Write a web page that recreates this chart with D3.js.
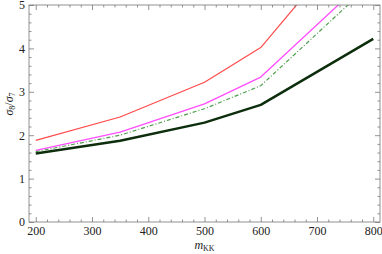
<!DOCTYPE html>
<html>
<head>
<meta charset="utf-8">
<script src="https://cdn.jsdelivr.net/npm/d3@7"></script>
<style>
  body { margin: 0; background: #fff; }
  text { font-family: "Liberation Serif", "DejaVu Serif", serif; fill: #222; }
</style>
</head>
<body>
<svg id="chart" width="382" height="254"></svg>
<script>
const masses = [200, 350, 500, 600, 800]
const redRatio = [1.88, 2.42, 3.22, 4.02, 7.1]
const magentaRatio = [1.65, 2.07, 2.72, 3.34, 5.75]
const greenRatio = [1.62, 2.0, 2.61, 3.14, 5.54]
const blackRatio = [1.58, 1.87, 2.29, 2.70, 4.22]
const xTicks = [200, 300, 400, 500, 600, 700, 800]
const yTicks = [0, 1, 2, 3, 4, 5]

const svg = d3.select('#chart')
const box = { left: 29, right: 380, top: 5, bottom: 222 }
const serif = '"Liberation Serif", "DejaVu Serif", serif'

const x = d3.scaleLinear().domain([188, 812]).range([box.left, box.right])
const y = d3.scaleLinear().domain([0, 5]).range([box.bottom, box.top])

svg.append('clipPath').attr('id', 'plot-clip').append('rect')
  .attr('x', box.left).attr('y', box.top)
  .attr('width', box.right - box.left).attr('height', box.bottom - box.top)

const series = [
  { values: blackRatio, color: '#0d2e0d', width: 2.5, dash: null },
  { values: greenRatio, color: '#4f9e4f', width: 1.2, dash: '4,2,1,2' },
  { values: magentaRatio, color: '#ff4dff', width: 1.3, dash: null },
  { values: redRatio, color: '#ff4a4a', width: 1.2, dash: null },
]

const line = d3.line()
  .x((d) => x(d[0]))
  .y((d) => y(d[1]))

const linesG = svg.append('g').attr('clip-path', 'url(#plot-clip)')
series.forEach((s) => {
  linesG.append('path')
    .datum(masses.map((m, i) => [m, s.values[i]]))
    .attr('d', line)
    .attr('fill', 'none')
    .attr('stroke', s.color)
    .attr('stroke-width', s.width)
    .attr('stroke-dasharray', s.dash)
    .attr('stroke-linejoin', 'round')
})

// frame with inward ticks on all sides
const tickStyle = (g) => {
  g.attr('font-family', serif)
  g.select('.domain').remove()
  g.selectAll('line').attr('stroke', '#777').attr('stroke-width', 0.8)
  g.selectAll('text').attr('font-size', 12).attr('fill', '#222')
}

const xMinor = d3.range(200, 801, 20).filter((v) => v % 100 !== 0)
const yMinor = d3.range(0.2, 5, 0.2).filter((v) => Math.abs(v - Math.round(v)) > 0.01)

svg.append('g').attr('transform', `translate(0,${box.bottom})`)
  .call(d3.axisBottom(x).tickValues(xTicks).tickSize(-5).tickPadding(4))
  .call(tickStyle)
svg.append('g').attr('transform', `translate(0,${box.bottom})`)
  .call(d3.axisBottom(x).tickValues(xMinor).tickSize(-2.5).tickFormat(''))
  .call(tickStyle)
svg.append('g').attr('transform', `translate(0,${box.top})`)
  .call(d3.axisTop(x).tickValues(xTicks).tickSize(-5).tickFormat(''))
  .call(tickStyle)
svg.append('g').attr('transform', `translate(0,${box.top})`)
  .call(d3.axisTop(x).tickValues(xMinor).tickSize(-2.5).tickFormat(''))
  .call(tickStyle)

svg.append('g').attr('transform', `translate(${box.left},0)`)
  .call(d3.axisLeft(y).tickValues(yTicks).tickSize(-5).tickPadding(4).tickFormat(d3.format('d')))
  .call(tickStyle)
svg.append('g').attr('transform', `translate(${box.left},0)`)
  .call(d3.axisLeft(y).tickValues(yMinor).tickSize(-2.5).tickFormat(''))
  .call(tickStyle)
svg.append('g').attr('transform', `translate(${box.right},0)`)
  .call(d3.axisRight(y).tickValues(yTicks).tickSize(-5).tickFormat(''))
  .call(tickStyle)
svg.append('g').attr('transform', `translate(${box.right},0)`)
  .call(d3.axisRight(y).tickValues(yMinor).tickSize(-2.5).tickFormat(''))
  .call(tickStyle)

svg.append('rect')
  .attr('x', box.left).attr('y', box.top)
  .attr('width', box.right - box.left).attr('height', box.bottom - box.top)
  .attr('fill', 'none').attr('stroke', '#777').attr('stroke-width', 0.8)

// axis labels
const xLabel = svg.append('text')
  .attr('x', (box.left + box.right) / 2).attr('y', 249)
  .attr('text-anchor', 'middle').attr('font-size', 12)
xLabel.append('tspan').attr('font-style', 'italic').text('m')
xLabel.append('tspan').attr('font-size', 8).attr('dy', 2).text('KK')

const yLabel = svg.append('text')
  .attr('transform', 'translate(13,104) rotate(-90)')
  .attr('text-anchor', 'middle').attr('font-size', 12)
yLabel.append('tspan').attr('font-style', 'italic').text('σ')
yLabel.append('tspan').attr('font-size', 8).attr('dy', 2).text('8')
yLabel.append('tspan').attr('dy', -2).text('/')
yLabel.append('tspan').attr('font-style', 'italic').text('σ')
yLabel.append('tspan').attr('font-size', 8).attr('dy', 2).text('7')
</script>
</body>
</html>
